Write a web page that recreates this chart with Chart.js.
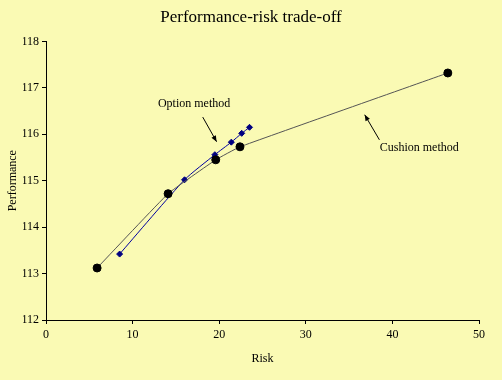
<!DOCTYPE html>
<html><head><meta charset="utf-8">
<script src="https://cdn.jsdelivr.net/npm/chart.js@4/dist/chart.umd.min.js"></script>
<style>html,body{margin:0;padding:0;background:#FAFAB4;}#wrap{width:502px;height:380px;}</style>
</head><body><div id="wrap"><canvas id="c" width="502" height="380"></canvas></div>
<script>
const cushionRisk = [5.9, 14.1, 19.6, 22.4, 46.4];
const cushionPerf = [113.12, 114.72, 115.45, 115.73, 117.32];
const optionRisk = [8.5, 16.0, 19.5, 21.4, 22.6, 23.5];
const optionPerf = [113.42, 115.02, 115.56, 115.83, 116.02, 116.15];
const xTicks = [0, 10, 20, 30, 40, 50];
const yTicks = [112, 113, 114, 115, 116, 117, 118];
const notes = [
  {text: 'Option method', tx: 17.1, ty: 116.66, from: [18.1, 116.37], to: [19.7, 115.84]},
  {text: 'Cushion method', tx: 43.1, ty: 115.71, from: [38.5, 115.88], to: [36.8, 116.42]}
];

const serif = '"Liberation Serif", "Times New Roman", serif';
const bgPlugin = {id:'bg', beforeDraw(ch){const c=ch.ctx;c.save();c.fillStyle='#FAFAB4';c.fillRect(0,0,ch.width,ch.height);c.restore();}};
const notePlugin = {id:'notes', afterDatasetsDraw(ch){
  const c=ch.ctx, xs=ch.scales.x, ys=ch.scales.y;
  c.save();
  c.font='12px '+serif; c.fillStyle='#000'; c.textAlign='center'; c.textBaseline='middle';
  notes.forEach(n=>{
    c.fillText(n.text, xs.getPixelForValue(n.tx), ys.getPixelForValue(n.ty));
    const x1=xs.getPixelForValue(n.from[0]), y1=ys.getPixelForValue(n.from[1]);
    const x2=xs.getPixelForValue(n.to[0]), y2=ys.getPixelForValue(n.to[1]);
    c.strokeStyle='#000'; c.lineWidth=1;
    c.beginPath(); c.moveTo(x1,y1); c.lineTo(x2,y2); c.stroke();
    const a=Math.atan2(y2-y1,x2-x1), L=6, W=2.5;
    c.beginPath(); c.moveTo(x2,y2);
    c.lineTo(x2-L*Math.cos(a)+W*Math.sin(a), y2-L*Math.sin(a)-W*Math.cos(a));
    c.lineTo(x2-L*Math.cos(a)-W*Math.sin(a), y2-L*Math.sin(a)+W*Math.cos(a));
    c.closePath(); c.fill();
  });
  c.restore();
}};

new Chart(document.getElementById('c'), {
  type: 'scatter',
  data: {datasets: [
    {label:'Cushion method', data: cushionRisk.map((x,i)=>({x, y:cushionPerf[i]})), showLine:true,
     borderColor:'#555555', borderWidth:1, backgroundColor:'#000', pointBackgroundColor:'#000', pointBorderColor:'#000',
     pointRadius:4, pointStyle:'circle', tension:0.1},
    {label:'Option method', data: optionRisk.map((x,i)=>({x, y:optionPerf[i]})), showLine:true,
     borderColor:'#0000A0', borderWidth:1, pointBackgroundColor:'#000080', pointBorderColor:'#000080',
     pointRadius:3, pointStyle:'rectRot', tension:0.2}
  ]},
  plugins:[bgPlugin, notePlugin],
  options: {
    responsive:false, animation:false, devicePixelRatio:1,
    layout:{padding:{left:23, right:23, top:0, bottom:0}},
    plugins:{
      legend:{display:false}, tooltip:{enabled:false},
      title:{display:true, text:'Performance-risk trade-off', color:'#000',
        font:{family:serif, size:17, weight:'normal', lineHeight:1.2}, padding:{top:7, bottom:14}}
    },
    scales:{
      x:{type:'linear', min:0, max:50,
        afterBuildTicks(s){s.ticks=xTicks.map(v=>({value:v}));},
        afterFit(s){s.height=60;},
        border:{color:'#000', width:1},
        grid:{display:true, drawOnChartArea:false, drawTicks:true, tickLength:4, color:'#000'},
        ticks:{color:'#000', font:{family:serif, size:12}, padding:4, maxRotation:0},
        title:{display:true, text:'Risk', color:'#000', font:{family:serif, size:12}, padding:{top:4, bottom:14}}
      },
      y:{type:'linear', min:112, max:118,
        afterBuildTicks(s){s.ticks=yTicks.map(v=>({value:v}));},
        afterFit(s){s.width=23;},
        border:{color:'#000', width:1},
        grid:{display:true, drawOnChartArea:false, drawTicks:true, tickLength:4, color:'#000'},
        ticks:{color:'#000', font:{family:serif, size:12}, padding:3},
        title:{display:true, text:'Performance', color:'#000', font:{family:serif, size:12}, padding:{top:-17, bottom:0}}
      }
    }
  }
});
</script></body></html>
